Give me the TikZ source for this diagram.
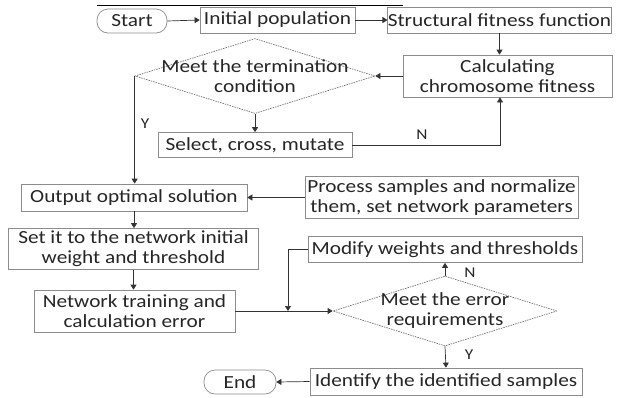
\documentclass[tikz,border=0pt]{standalone}
\usepackage{fontspec}
\setmainfont[FakeStretch=1.15]{Carlito}
\usetikzlibrary{shapes.geometric,arrows.meta}
\begin{document}
\begin{tikzpicture}[x=1pt,y=-1pt,
  every node/.style={font=\fontsize{18.5}{20}\selectfont, text=black!85, inner sep=0pt},
  box/.style={draw=black!45, line width=0.7pt, rectangle, align=center},
  pill/.style={draw=black!45, line width=0.7pt, rounded corners=11pt, align=center},
  dia/.style={draw=black!55, line width=0.7pt, dashed, dash pattern=on 1.5pt off 1pt, diamond, inner sep=0pt},
  arr/.style={draw=black!80, line width=0.7pt, -{Triangle[length=5pt,width=6pt]}},
  ln/.style={draw=black!80, line width=0.7pt},
  lab/.style={font=\fontsize{15}{17}\selectfont}]
\useasboundingbox[fill=white] (0,0) rectangle (621,397);
\draw[black, line width=0.8pt] (97,5) -- (403,5);
\node[pill, minimum width=70pt, minimum height=24pt] (start) at (132,21) {Start};
\node[box, minimum width=155pt, minimum height=26pt] (init) at (277.5,20) {Initial population};
\node[box, minimum width=221pt, minimum height=26pt] (struct) at (499.5,20) {Structural fitness function};
\node[box, minimum width=209pt, minimum height=42pt] (calc) at (507.5,76) {Calculating\\chromosome fitness};
\node[dia, minimum width=240pt, minimum height=75pt] (d1) at (255,76) {};
\node[align=center] (d1t) at (255,76) {Meet the termination\\condition};
\node[box, minimum width=194pt, minimum height=25pt] (sel) at (255,145) {Select, cross, mutate};
\node[box, minimum width=226pt, minimum height=27pt] (out) at (134,197.5) {Output optimal solution};
\node[box, minimum width=273pt, minimum height=42pt] (proc) at (441.5,197.5) {Process samples and normalize\\them, set network parameters};
\node[box, minimum width=250pt, minimum height=41pt] (set) at (133.5,249) {Set it to the network initial\\weight and threshold};
\node[box, minimum width=201pt, minimum height=42pt] (net) at (134.5,311) {Network training and\\calculation error};
\node[box, minimum width=274pt, minimum height=26pt] (mod) at (445,249.5) {Modify weights and thresholds};
\node[dia, minimum width=224pt, minimum height=70pt] (d2) at (445,311) {};
\node[align=center] (d2t) at (445,311) {Meet the error\\requirements};
\node[box, minimum width=272pt, minimum height=27pt] (ident) at (446,381.5) {Identify the identified samples};
\node[pill, minimum width=72pt, minimum height=24pt] (end) at (240,382) {End};
\coordinate (nx) at (500,0);
\coordinate (mx) at (288,0);
\draw[arr] (start.east) -- (init.west);
\draw[arr] (init.east) -- (struct.west);
\draw[arr] (struct.south) -- (struct.south |- calc.north);
\draw[arr] (calc.west) -- (d1.east);
\draw[arr] (d1.south) -- (sel.north);
\draw[arr] (sel.east) -| (nx |- calc.south);
\node[lab] (nlab1) at (422,135) {N};
\draw[arr] (d1.west) -- (d1.west |- out.north);
\node[lab] (ylab1) at (145,124) {Y};
\draw[arr] (proc.west) -- (out.east);
\draw[arr] (out.south) -- (out.south |- set.north);
\draw[arr] (set.south) -- (set.south |- net.north);
\draw[arr] (net.east) -- (d2.west);
\draw[arr] (mod.west) -| (mx |- d2.west);
\draw[arr] (d2.north) -- (mod.south);
\node[lab] (nlab2) at (470,273) {N};
\draw[arr] (d2.south) -- (ident.north);
\node[lab] (ylab2) at (469,355) {Y};
\draw[arr] (ident.west) -- (end.east);
\end{tikzpicture}
\end{document}
